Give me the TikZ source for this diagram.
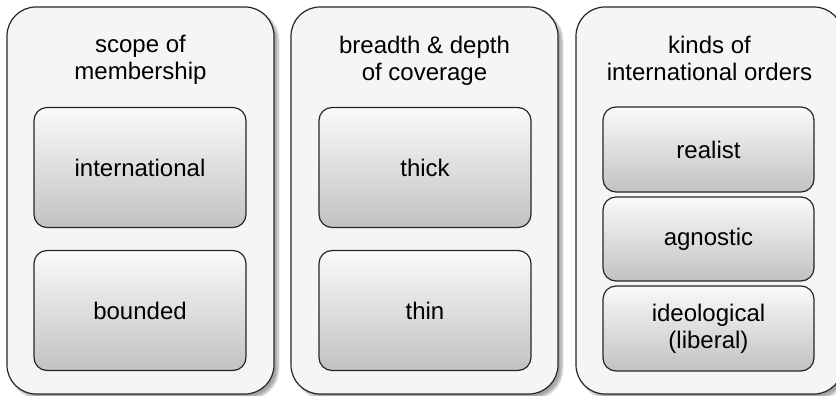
\documentclass[tikz,border=0pt]{standalone}
\usepackage{fontspec}
\setmainfont{Liberation Sans}
\usetikzlibrary{shadows.blur}

\begin{document}
\begin{tikzpicture}[x=1pt,y=-1pt,
    panel/.style={draw=black!85,line width=1.2pt,fill=black!4,rounded corners=29pt,
        minimum width=267pt,minimum height=387pt,inner sep=0pt,
        blur shadow={shadow xshift=4pt,shadow yshift=-4pt,shadow blur steps=8,shadow opacity=35}},
    item/.style={draw=black!85,line width=1.2pt,rounded corners=13pt,
        top color=black!2,bottom color=black!24,minimum width=212pt,
        inner sep=0pt,align=center,font=\fontsize{24}{27}\selectfont},
    head/.style={align=center,inner sep=0pt,font=\fontsize{24}{27}\selectfont}]
        \useasboundingbox (0,0) rectangle (836,396);

        \node[panel] (scope) at (140.5,200.5) {};
        \node[panel] (breadth) at (424.5,200.5) {};
        \node[panel] (kinds) at (709.5,200.5) {};

        \node[head] (scopeH) at (140.5,60) {scope of\\membership};
        \node[head] (breadthH) at (424.5,60.5) {breadth \& depth\\of coverage};
        \node[head] (kindsH) at (709.5,58) {kinds of\\international orders};

        \node[item,minimum height=120pt] (intl) at (140,167.5) {international};
        \node[item,minimum height=120pt] (bounded) at (140,310.5) {bounded};
        \node[item,minimum height=120pt] (thick) at (425,167.5) {thick};
        \node[item,minimum height=120pt] (thin) at (425,310.5) {thin};

        \node[item,minimum width=211pt,minimum height=85pt] (realist) at (708.5,149.5) {realist};
        \node[item,minimum width=211pt,minimum height=84pt] (agnostic) at (708.5,239) {agnostic};
        \node[item,minimum width=211pt,minimum height=85pt] (ideological) at (708.5,328.5) {ideological\\(liberal)};
    \end{tikzpicture}
\end{document}
